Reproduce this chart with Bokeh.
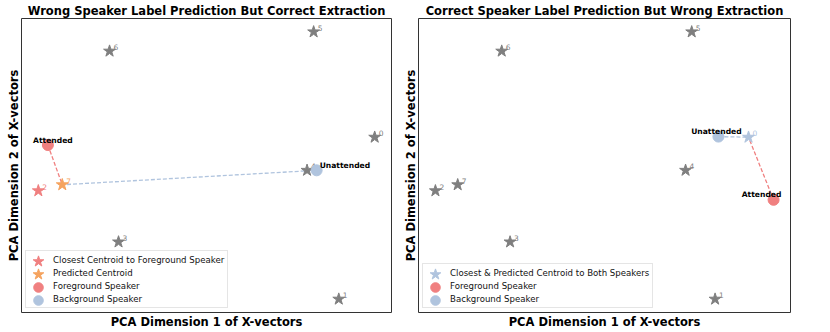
from bokeh.plotting import figure
from bokeh.models import ColumnDataSource, Range1d, Title, Legend, LegendItem
from bokeh.core.properties import value
from bokeh.layouts import row
from bokeh.embed import file_html
from bokeh.resources import INLINE

# ---- data (PCA coordinates) ----
centroid_ids = ["0", "1", "2", "3", "4", "5", "6", "7"]
centroid_x = [2.90, 2.30, -2.72, -1.38, 1.77, 1.88, -1.53, -2.32]
centroid_y = [0.47, -2.22, -0.42, -1.27, -0.08, 2.22, 1.90, -0.32]

# panel 1: wrong speaker label prediction, correct extraction
p1_title = "Wrong Speaker Label Prediction But Correct Extraction"
p1_fg = (-2.56, 0.34)
p1_bg = (1.93, -0.08)
p1_closest = 2
p1_predicted = 7

# panel 2: correct speaker label prediction, wrong extraction
p2_title = "Correct Speaker Label Prediction But Wrong Extraction"
p2_fg = (3.35, -0.57)
p2_bg = (2.36, 0.48)
p2_closest = 0
p2_predicted = 0

x_label = "PCA Dimension 1 of X-vectors"
y_label = "PCA Dimension 2 of X-vectors"
fg_text = "Attended"
bg_text = "Unattended"

GRAY = "#7f7f7f"
RED = "#f08080"
ORANGE = "#f5a35f"
BLUE = "#b0c4de"
FONT = "DejaVu Sans"
H = 330

# legend geometry (screen px)
LEG_MARGIN = 4
LEG_PAD = 3
LEG_ROW = 11
LEG_GAP = 2
LEG_GLYPH_W = 20
STAR_BOX = 28          # glyph box of the marker legends -> marker size 0.4*box
CIRCLE_BOX = 24


def padded(vals, frac=0.05):
    lo, hi = min(vals), max(vals)
    m = (hi - lo) * frac
    return Range1d(lo - m, hi + m)


def make_panel(title, fg, bg, closest, predicted, width, bl, br, star_labels):
    xs = centroid_x + [fg[0], bg[0]]
    ys = centroid_y + [fg[1], bg[1]]
    p = figure(width=width, height=H, output_backend="svg", toolbar_location=None,
               x_range=padded(xs), y_range=padded(ys),
               x_axis_location=None, y_axis_location=None,
               min_border_left=bl, min_border_right=br,
               min_border_top=18, min_border_bottom=H - 312)
    p.grid.visible = False
    p.outline_line_color = "#333333"
    p.outline_line_width = 1
    p.background_fill_color = "white"
    p.border_fill_color = "white"

    p.title.text = title
    p.title.text_font = FONT
    p.title.text_font_size = "11.5px"
    p.title.text_font_style = "bold"
    p.title.align = "center"
    p.title.standoff = 2
    p.title.text_color = "black"

    p.add_layout(Title(text=x_label, align="center", text_font=FONT, text_font_size="11.5px",
                       text_font_style="bold", text_color="black", standoff=0), "below")
    p.add_layout(Title(text=y_label, align="center", text_font=FONT, text_font_size="11.5px",
                       text_font_style="bold", text_color="black", standoff=2), "left")

    # connector lines from speakers to predicted centroid
    px, py = centroid_x[predicted], centroid_y[predicted]
    p.line([fg[0], px], [fg[1], py], line_color=RED, line_dash="4 2", line_width=1.3)
    p.line([bg[0], px], [bg[1], py], line_color=BLUE, line_dash="4 2", line_width=1.3)

    # centroid stars
    cols = [GRAY] * len(centroid_ids)
    if closest == predicted:
        cols[closest] = BLUE
    else:
        cols[closest] = RED
        cols[predicted] = ORANGE
    src = ColumnDataSource(dict(x=centroid_x, y=centroid_y, t=centroid_ids, c=cols))
    rstar = p.scatter("x", "y", source=src, marker="star", size=12.5, fill_color="c", line_color="c")
    p.text("x", "y", text="t", source=src, text_color="c", text_font_size="7.5px",
           text_font=value(FONT), x_offset=4, y_offset=-4, text_baseline="alphabetic",
           text_align="left")

    # speakers
    rfg = p.scatter([fg[0]], [fg[1]], marker="circle", size=11, fill_color=RED, line_color=RED)
    rbg = p.scatter([bg[0]], [bg[1]], marker="circle", size=11, fill_color=BLUE, line_color=BLUE)

    labels = [lab for lab, _ in star_labels] + ["Foreground Speaker", "Background Speaker"]
    marks = [(rstar, idx, STAR_BOX) for _, idx in star_labels] + \
        [(rfg, None, CIRCLE_BOX), (rbg, None, CIRCLE_BOX)]

    # legend box + labels (glyph slots left blank, markers drawn by the marker legends)
    blank = p.scatter([], [], marker="circle", fill_alpha=0, line_alpha=0)
    leg_a = Legend(items=[LegendItem(label=l, renderers=[blank]) for l in labels],
                   location="bottom_left", label_text_font=FONT, label_text_color="#111111",
                   label_text_font_size="8.6px", label_height=LEG_ROW, glyph_height=LEG_ROW,
                   glyph_width=LEG_GLYPH_W, spacing=LEG_GAP, padding=LEG_PAD, label_standoff=4,
                   margin=LEG_MARGIN, border_line_color="#cccccc", border_line_width=1,
                   background_fill_alpha=0.85)
    p.add_layout(leg_a)

    # one small legend per row that draws a full-size marker in the blank slot
    n = len(marks)
    cx = LEG_MARGIN + LEG_PAD + LEG_GLYPH_W / 2
    for i, (r, idx, box) in enumerate(marks):
        cy = LEG_MARGIN + LEG_PAD + LEG_ROW / 2 + (n - 1 - i) * (LEG_ROW + LEG_GAP)
        item = LegendItem(label=" ", renderers=[r]) if idx is None else \
            LegendItem(label=" ", renderers=[r], index=idx)
        leg_b = Legend(items=[item], location=(cx - box / 2, cy - box / 2),
                       label_text_alpha=0, label_text_font_size="8px", label_height=box,
                       glyph_height=box, glyph_width=box, padding=0,
                       label_standoff=0, margin=0, border_line_alpha=0, background_fill_alpha=0)
        p.add_layout(leg_b)
    return p


p1 = make_panel(p1_title, p1_fg, p1_bg, p1_closest, p1_predicted, 400, 21, 9,
                [("Closest Centroid to Foreground Speaker", p1_closest),
                 ("Predicted Centroid", p1_predicted)])
p2 = make_panel(p2_title, p2_fg, p2_bg, p2_closest, p2_predicted, 428, 18, 38,
                [("Closest & Predicted Centroid to Both Speakers", p2_closest)])

# speaker annotations
ann = dict(text_font=value(FONT), text_font_size="7.6px", text_font_style="bold",
           text_color="black", text_baseline="alphabetic")
p1.text([p1_fg[0]], [p1_fg[1]], text=[fg_text], text_align="center", x_offset=5, y_offset=-5, **ann)
p1.text([p1_bg[0]], [p1_bg[1]], text=[bg_text], text_align="left", x_offset=3, y_offset=-5, **ann)
p2.text([p2_bg[0]], [p2_bg[1]], text=[bg_text], text_align="center", x_offset=-2, y_offset=-5, **ann)
p2.text([p2_fg[0]], [p2_fg[1]], text=[fg_text], text_align="center", x_offset=-12, y_offset=-5, **ann)

layout = row(p1, p2)
open("out.html", "w").write(file_html(layout, INLINE))
